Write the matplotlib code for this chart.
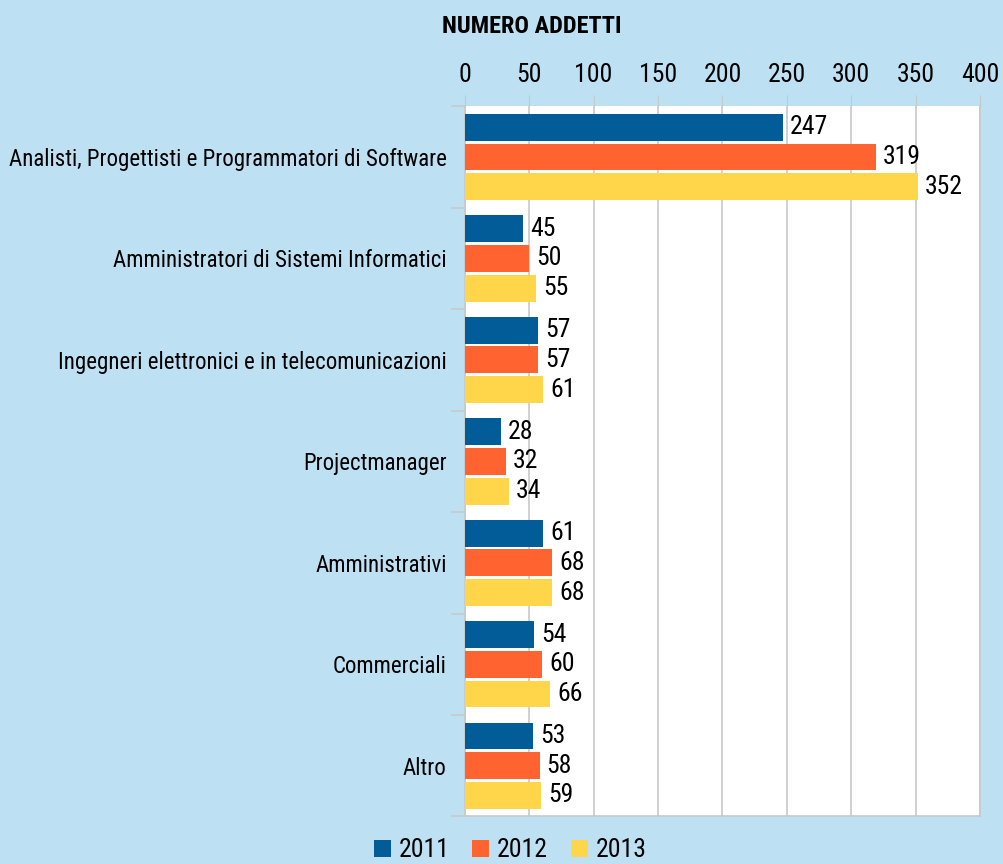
import matplotlib
matplotlib.use("Agg")
import matplotlib.pyplot as plt
import numpy as np
from matplotlib import font_manager

categories = ["Analisti, Progettisti e Programmatori di Software",
              "Amministratori di Sistemi Informatici",
              "Ingegneri elettronici e in telecomunicazioni",
              "Projectmanager",
              "Amministrativi",
              "Commerciali",
              "Altro"]
years = ["2011", "2012", "2013"]
v2011 = [247, 45, 57, 28, 61, 54, 53]
v2012 = [319, 50, 57, 32, 68, 60, 58]
v2013 = [352, 55, 61, 34, 68, 66, 59]
colors = ["#025C97", "#FF6330", "#FFD64A"]

# narrow font if there is one, else Roboto (narrower than Arial)
names = set(f.name for f in font_manager.fontManager.ttflist)
fam = "Roboto"
for cand in ["Liberation Sans Narrow", "Roboto Condensed", "Open Sans Condensed"]:
    if cand in names:
        fam = cand
        break
plt.rcParams['font.family'] = [fam, 'DejaVu Sans']

bg = "#BDE0F2"
fig = plt.figure(figsize=(10.04, 8.64), dpi=100, facecolor=bg)
ax = fig.add_axes([0.463, 0.055, 0.513, 0.822])
ax.set_facecolor("white")

# size the category labels so the longest one is about 437 px wide
r = fig.canvas.get_renderer()
t = fig.text(0, 0, categories[0], fontsize=17)
w = t.get_window_extent(r).width
t.remove()
cat_fs = min(18, 17 * 437 / w)

y = np.arange(len(categories))
h = 0.265
step = 0.293
for i, (vals, c, lab) in enumerate(zip([v2011, v2012, v2013], colors, years)):
    pos = y + (i - 1) * step
    bars = ax.barh(pos, vals, height=h, color=c, label=lab, zorder=3)
    for b, v in zip(bars, vals):
        ax.text(v + 5.5, b.get_y() + b.get_height() / 2, str(v), va="center", ha="left",
                fontsize=18.5, zorder=4)

ax.set_xlim(0, 400)
ax.set_ylim(len(categories) - 0.5, -0.5)
ax.xaxis.tick_top()
ax.set_xticks(np.arange(0, 401, 50))
ax.tick_params(axis="x", labelsize=18.5, length=8, color="#C8C8C8", pad=6)
ax.grid(axis="x", color="#C8C8C8", linewidth=1.2, zorder=0)

ax.set_yticks(y)
ax.set_yticklabels(categories, fontsize=cat_fs)
ax.tick_params(axis="y", length=0, pad=13)
ax.set_yticks(np.arange(-0.5, len(categories) + 0.5, 1), minor=True)
ax.tick_params(axis="y", which="minor", length=10, color="#C8C8C8", width=1.2)

for s in ["left", "bottom", "right"]:
    ax.spines[s].set_color("#C8C8C8")
    ax.spines[s].set_linewidth(1.2)
ax.spines["top"].set_visible(False)

fig.text(0.53, 0.969, "NUMERO ADDETTI", ha="center", va="center", fontsize=17.5,
         fontweight="bold")

leg = fig.legend(loc="center", bbox_to_anchor=(0.508, 0.016), ncol=3, frameon=False,
                 fontsize=18.5, handlelength=0.65, handleheight=0.65, handletextpad=0.3,
                 columnspacing=0.9)

fig.savefig("out.png", dpi=100, facecolor=bg)
